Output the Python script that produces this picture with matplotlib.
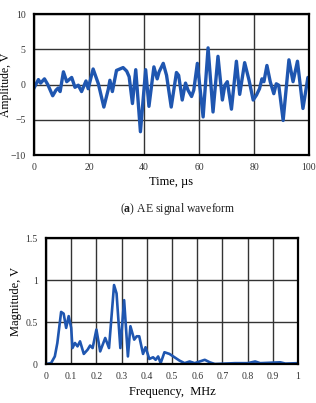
"""AE signal waveform and its frequency spectrum (two stacked panels)."""

import matplotlib

matplotlib.use("Agg")
import matplotlib.pyplot as plt
import numpy as np

# waveform (time in us, amplitude in V)
time_us = [0, 0.8, 1.6, 2.4, 3.8, 5.0, 6.8, 8.0, 8.8, 9.5, 10.7, 11.9, 13.7, 14.9,
           16.1, 17.3, 18.9, 19.7, 21.5, 23.4, 25.4, 27.0, 27.6, 28.5, 30.0, 32.4,
           33.7, 34.6, 35.8, 37.0, 38.7, 40.6, 41.8, 43.6, 44.8, 45.5, 47.0, 48.2,
           49.9, 51.8, 52.6, 53.9, 55.1, 56.0, 57.3, 58.1, 59.4, 61.5, 63.3, 65.1,
           66.9, 68.5, 69.4, 70.3, 71.8, 73.6, 74.8, 76.6, 78.2, 79.7, 80.9, 82.0,
           82.9, 83.6, 84.7, 85.9, 87.2, 88.1, 89.0, 90.6, 92.7, 94.2, 95.8, 97.8,
           99.6, 100]
amplitude = [-0.5, 0.1, 0.7, 0.2, 0.8, 0.0, -1.6, -0.8, -0.5, -1.0, 1.8, 0.4, 1.0, -0.4,
             -0.1, -1.0, 0.5, -0.6, 2.2, 0.1, -3.2, -0.7, 0.6, -1.0, 2.0, 2.4,
             1.9, 1.1, -2.7, 2.1, -6.7, 2.1, -3.1, 2.5, 0.8, 1.8, 3.0, 1.3,
             -3.2, 1.7, 1.3, -2.2, 0.2, -0.8, -1.7, -0.8, 3.0, -4.6, 5.2, -3.9,
             4.0, -2.2, -0.1, 0.4, -3.5, 3.3, -1.4, 3.1, 0.6, -2.2, -1.5, -0.6,
             0.8, 0.4, 2.7, 0.4, -1.3, 0.1, -0.1, -5.1, 3.5, 0.4, 3.3, -3.4,
             1.0, 0.8]

# spectrum (frequency in MHz, magnitude in V)
freq_mhz = [0, 0.02, 0.035, 0.045, 0.06, 0.07, 0.08, 0.09, 0.1, 0.105, 0.115, 0.125,
            0.135, 0.15, 0.165, 0.175, 0.185, 0.2, 0.215, 0.235, 0.25, 0.27, 0.28,
            0.295, 0.31, 0.325, 0.335, 0.35, 0.36, 0.37, 0.385, 0.395, 0.41, 0.425,
            0.435, 0.445, 0.455, 0.47, 0.49, 0.51, 0.53, 0.55, 0.57, 0.59, 0.61,
            0.63, 0.65, 0.67, 0.75, 0.8, 0.83, 0.85, 0.93, 0.95, 1.0]
magnitude = [0, 0.01, 0.09, 0.25, 0.62, 0.6, 0.43, 0.57, 0.43, 0.19, 0.25, 0.21,
             0.27, 0.12, 0.17, 0.22, 0.19, 0.41, 0.15, 0.31, 0.19, 0.94, 0.84,
             0.19, 0.76, 0.09, 0.45, 0.29, 0.33, 0.33, 0.12, 0.2, 0.06, 0.08,
             0.05, 0.09, 0.01, 0.14, 0.12, 0.08, 0.04, 0.01, 0.03, 0.01, 0.03,
             0.05, 0.02, 0.0, 0.01, 0.01, 0.03, 0.01, 0.02, 0.005, 0.01]

plt.rcParams["font.family"] = ["Liberation Serif", "DejaVu Serif"]
plt.rcParams["mathtext.fontset"] = "custom"
plt.rcParams["mathtext.rm"] = "Liberation Serif"
plt.rcParams["mathtext.bf"] = "Liberation Serif:bold"
LINE = "#1f56b0"

fig = plt.figure(figsize=(3.16, 4.03), dpi=100)
W, H = 316, 403


def style(ax):
    for s in ax.spines.values():
        s.set_linewidth(1.6)
        s.set_color("black")
    ax.grid(True, color="#333333", linewidth=1.0)
    ax.set_axisbelow(True)
    ax.tick_params(length=0, labelsize=7, labelcolor="#333333", pad=6)


# top: waveform
ax1 = fig.add_axes([34 / W, 1 - 155 / H, (309 - 34) / W, (155 - 14) / H])
ax1.plot(time_us, amplitude, color=LINE, linewidth=2.4)
ax1.set_xlim(0, 100); ax1.set_ylim(-10, 10)
ax1.set_xticks(np.arange(0, 101, 20)); ax1.set_yticks(np.arange(-10, 11, 5))
ax1.set_xlabel("Time, µs", fontsize=9, labelpad=3)
ax1.set_ylabel("Amplitude, V", fontsize=8.5, va="center")
ax1.yaxis.set_label_coords(-0.101, 0.5)
style(ax1)

fig.text(178 / W, 1 - 209 / H, r"($\mathbf{a}$) AE signal waveform",
         ha="center", va="center", fontsize=8.5, color="#222222")

# bottom: spectrum
ax2 = fig.add_axes([46 / W, 1 - 364 / H, (298 - 46) / W, (364 - 238) / H])
ax2.plot(freq_mhz, magnitude, color=LINE, linewidth=1.9)
ax2.set_xlim(0, 1); ax2.set_ylim(0, 1.5)
ax2.set_xticks(np.arange(0, 1.01, 0.1)); ax2.set_yticks([0, 0.5, 1, 1.5])
ax2.set_xticklabels(["0", "0.1", "0.2", "0.3", "0.4", "0.5", "0.6", "0.7", "0.8", "0.9", "1"])
ax2.set_yticklabels(["0", "0.5", "1", "1.5"])
ax2.set_xlabel("Frequency,  MHz", fontsize=9, labelpad=3)
ax2.set_ylabel("Magnitude, V", fontsize=9, va="center")
ax2.yaxis.set_label_coords(-0.12, 0.5)
style(ax2)

fig.savefig("out.png", dpi=100)
